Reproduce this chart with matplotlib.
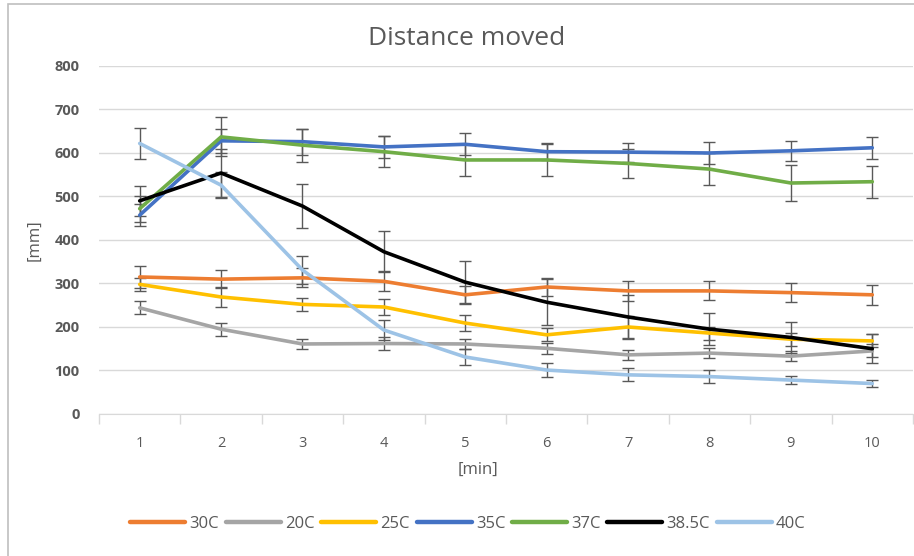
import matplotlib.pyplot as plt
from matplotlib.patches import Rectangle

plt.rcParams['font.family'] = ['Open Sans', 'DejaVu Sans']

minutes = [1, 2, 3, 4, 5, 6, 7, 8, 9, 10]
labels = ['30C', '20C', '25C', '35C', '37C', '38.5C', '40C']
colors = ['#ED7D31', '#A5A5A5', '#FFC000', '#4472C4', '#70AD47', '#000000', '#9DC3E6']

# mean distance per minute (mm)
d30 = [315, 310, 313, 305, 274, 292, 283, 283, 279, 274]
d20 = [244, 195, 161, 162, 161, 151, 136, 140, 133, 145]
d25 = [298, 269, 252, 246, 209, 182, 200, 186, 172, 168]
d35 = [457, 628, 626, 614, 620, 603, 602, 600, 605, 612]
d37 = [472, 637, 618, 603, 584, 584, 576, 563, 531, 534]
d385 = [490, 554, 478, 373, 303, 257, 223, 195, 176, 150]
d40 = [622, 526, 331, 193, 131, 101, 90, 86, 78, 70]

# standard errors
e30 = [25, 20, 22, 23, 20, 20, 23, 22, 22, 23]
e20 = [15, 15, 12, 15, 12, 12, 12, 12, 12, 15]
e25 = [15, 22, 15, 18, 18, 15, 25, 15, 15, 15]
e35 = [25, 28, 30, 25, 25, 20, 22, 25, 23, 25]
e37 = [30, 45, 38, 35, 37, 37, 33, 37, 42, 37]
e385 = [35, 55, 50, 47, 48, 53, 50, 37, 35, 33]
e40 = [35, 30, 32, 23, 19, 17, 15, 14, 10, 8]

means = [d30, d20, d25, d35, d37, d385, d40]
errs = [e30, e20, e25, e35, e37, e385, e40]

fig = plt.figure(figsize=(9.14, 5.56), dpi=100)
ax = fig.add_axes([0.1083, 0.2554, 0.8906, 0.6259])

for m, e, c, lab in zip(means, errs, colors, labels):
    ax.errorbar(minutes, m, yerr=e, fmt='none', ecolor='#595959',
                elinewidth=1, capsize=4, capthick=1, zorder=2)
    ax.plot(minutes, m, color=c, lw=2.6, label=lab, zorder=3,
            solid_capstyle='round', solid_joinstyle='round')

ax.set_xlim(0.5, 10.5)
ax.set_ylim(0, 800)
ax.set_yticks(range(0, 801, 100))
ax.set_xticks(minutes)
ax.set_xticks([i + 0.5 for i in range(0, 11)], minor=True)
ax.grid(axis='y', color='#D9D9D9', lw=1)
ax.set_axisbelow(True)
for s in ['top', 'right', 'left']:
    ax.spines[s].set_visible(False)
ax.spines['bottom'].set_color('#D9D9D9')
ax.tick_params(axis='y', length=0, pad=14, labelsize=10.5, labelcolor='#595959')
ax.tick_params(axis='x', which='major', length=0, pad=16, labelsize=10.5, labelcolor='#595959')
ax.tick_params(axis='x', which='minor', length=7, color='#D9D9D9', width=1)
for t in ax.get_yticklabels():
    t.set_fontweight('bold')

fig.text(0.510, 0.93, 'Distance moved', ha='center', va='center',
         fontsize=19, color='#595959')
fig.text(0.523, 0.155, '[min]', ha='center', va='center', fontsize=12, color='#595959')
fig.text(0.038, 0.568, '[mm]', ha='center', va='center', rotation=90,
         fontsize=12, color='#595959')

leg = fig.legend(loc='center', bbox_to_anchor=(0.512, 0.057), ncol=7, frameon=False,
                 handlelength=3.3, handletextpad=0.25, columnspacing=0.4,
                 fontsize=12, labelcolor='#595959')
for h in leg.legend_handles:
    h.set_linewidth(3.2)

fig.patches.append(Rectangle((8 / 914, -0.1), 1.2, 1.1 - 4 / 556,
                             transform=fig.transFigure, fill=False,
                             edgecolor='#BFBFBF', lw=1.2))

fig.savefig('out.png', dpi=100)
